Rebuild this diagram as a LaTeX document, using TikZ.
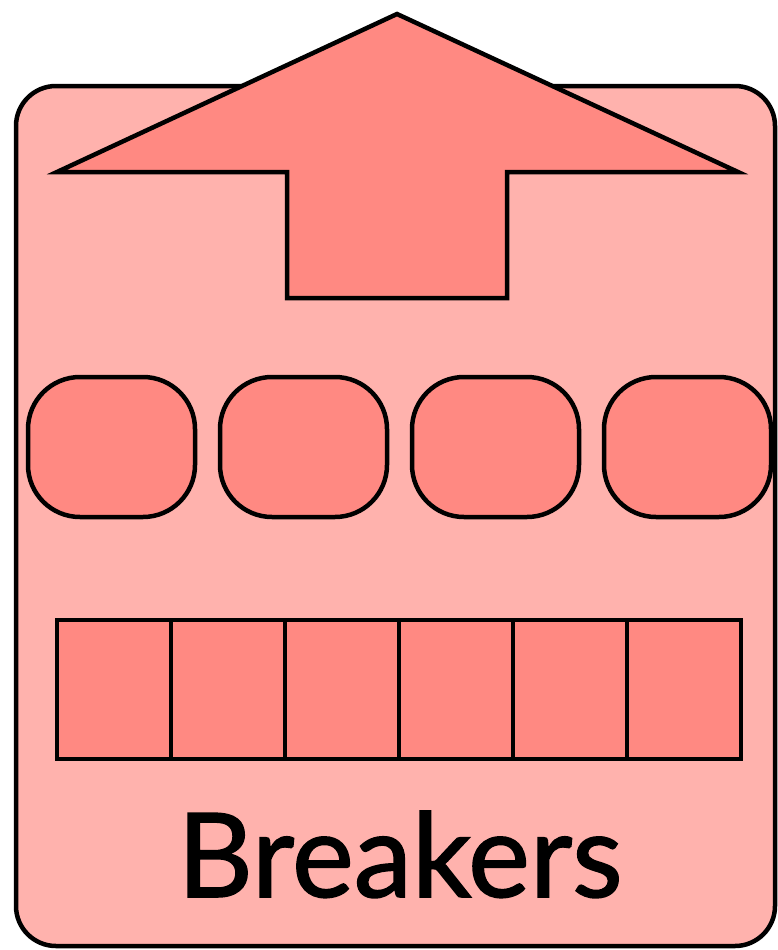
\documentclass[tikz,border=0pt]{standalone}
\usepackage{fontspec}
\setmainfont{Lato}
\newfontfamily\lblfont[FakeBold=1.3]{Lato}
\definecolor{outerfill}{RGB}{255,178,173}
\definecolor{innerfill}{RGB}{255,137,130}
\begin{document}
\begin{tikzpicture}[x=1pt,y=-1pt,
  outline/.style={draw=black,line width=4.5pt,line join=miter},
  frame/.style={outline,fill=outerfill,rounded corners=40pt},
  pill/.style={outline,fill=innerfill,rounded corners=52pt},
  cell/.style={outline,fill=innerfill}]
\useasboundingbox (0,0) rectangle (777,950);
% outer frame
\draw[frame] (16,86) rectangle (775,946);
% up arrow
\draw[outline,fill=innerfill,line join=miter,miter limit=20]
  (397,14) -- (738,172) -- (507,172) -- (507,298) -- (287,298) -- (287,172) -- (57,172) -- cycle;
% rounded pills
\foreach \i/\x in {1/28,2/220,3/412,4/604}{
  \draw[pill] (\x,377) rectangle ++(167,140);
}
% breaker cells
\foreach \i in {0,...,5}{
  \draw[cell] ({57+\i*114},620) rectangle ++(114,139);
}
\node[font=\lblfont\fontsize{117}{117}\selectfont,inner sep=0pt,anchor=base] (label) at (400,897) {Breakers};
\end{tikzpicture}
\end{document}
